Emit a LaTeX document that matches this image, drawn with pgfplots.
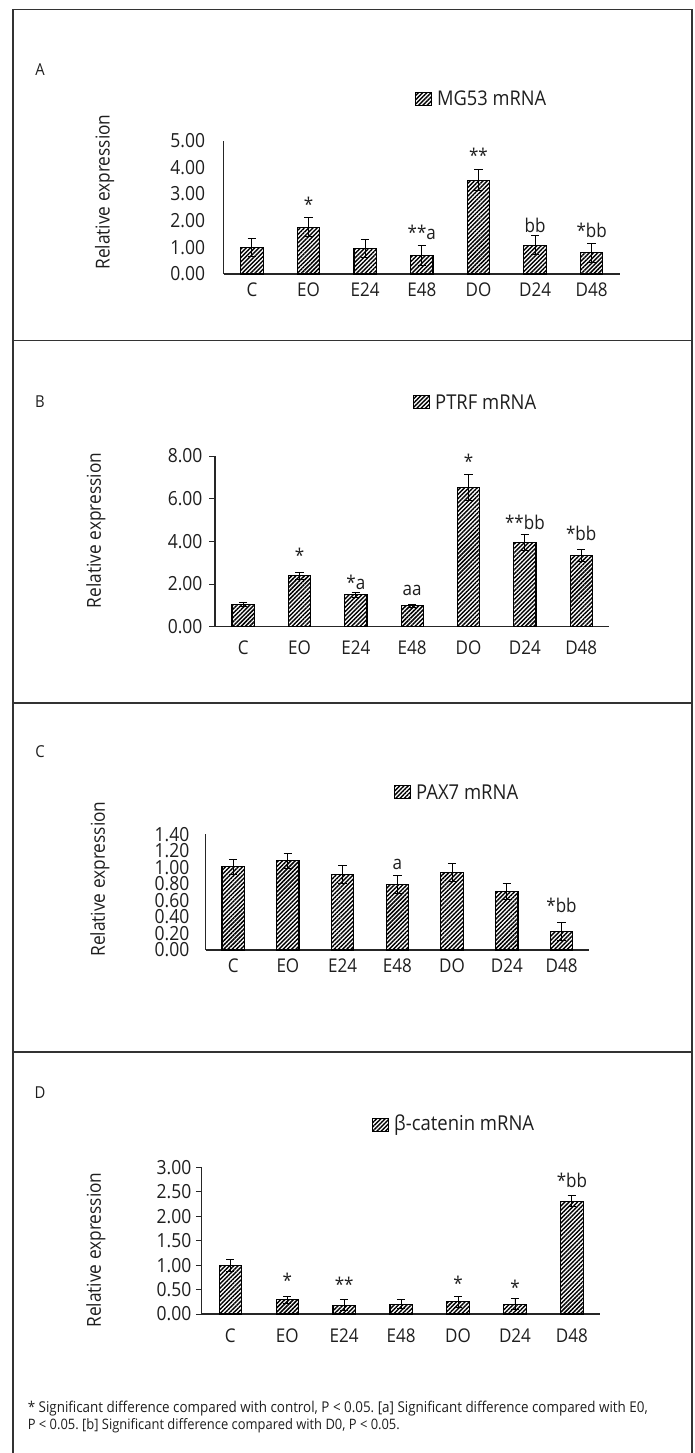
\documentclass[border=0pt]{standalone}
\usepackage{fontspec}
\setmainfont{Open Sans}[FakeStretch=0.9]
\usepackage{graphicx}
\usepackage{pgfplots}
\pgfplotsset{compat=1.18}
\usetikzlibrary{patterns.meta}
\newcommand{\fs}[1]{\fontsize{#1}{#1}\selectfont}
\definecolor{txt}{HTML}{1E1E1E}
\tikzset{hatch/.style={pattern={Lines[angle=45,distance=3bp,line width=1.45bp]}, draw=black},
  ann/.style={font=\fs{19}, inner sep=0pt, text=txt}}
\pgfplotsset{panel/.style={
  scale only axis, anchor=south west, clip=false,
  ybar, bar width=22.3bp, ymin=0, xmin=-0.5, xmax=6.5,
  axis x line=bottom, axis y line=left,
  axis line style={-, line width=1.2bp, black!85},
  xtick={0,...,6}, xticklabels={C,EO,E24,E48,DO,D24,D48},
  x tick style={draw=none}, major tick length=0pt,
  xticklabel style={font=\fs{19}, text=txt, yshift=-5bp},
  yticklabel style={font=\fs{19.5}, text=txt},
  /pgf/number format/fixed, /pgf/number format/fixed zerofill,
  /pgf/number format/precision=2, /pgf/number format/assume math mode=true},
  barplot/.style={hatch, line width=1.1bp,
  /pgfplots/error bars/y dir=both, /pgfplots/error bars/y explicit,
  /pgfplots/error bars/error bar style={line width=0.9bp, black},
  /pgfplots/error bars/error mark options={rotate=90, mark size=4.2bp, line width=0.9bp, black}}
}
% box x, y centre, text width, text
\newcommand{\legendentry}[4]{%
  \draw[hatch, line width=0.9bp] (#1bp,-#2bp-6.5bp) rectangle ++(16bp,13bp);
  \node[anchor=west, inner sep=0pt, font=\fs{20}, text=txt] at (#1bp+22bp,-#2bp) {\resizebox{#3bp}{!}{#4}};}
\begin{document}
\frenchspacing
\begin{tikzpicture}
\path[use as bounding box] (0,0) rectangle (695bp,-1453bp);
% frame
\draw[line width=1.3bp, black!80] (13bp,-1453bp) -- (13bp,-9.5bp) -- (692bp,-9.5bp) -- (692bp,-1453bp);
\draw[line width=1.3bp, black!80] (13bp,-340.7bp) -- (692bp,-340.7bp);
\draw[line width=1.3bp, black!80] (13bp,-703bp) -- (692bp,-703bp);
\draw[line width=1.3bp, black!80] (13bp,-1052bp) -- (692bp,-1052bp);

% ---------- Panel A ----------
\begin{axis}[panel, at={(223.6bp,-274bp)}, width=396.4bp, height=133.3bp,
  ymax=5, ytick={0,1,2,3,4,5}, yticklabel style={xshift=-15bp}]
\addplot[barplot] table[x=x, y=y, y error=e] {
x y e
0 1.00 0.35
1 1.75 0.36
2 0.96 0.35
3 0.69 0.37
4 3.52 0.40
5 1.08 0.36
6 0.79 0.35
};
\node[ann] at (axis cs:1,2.60) {*};
\node[ann] at (axis cs:3,1.56) {**a};
\node[ann] at (axis cs:4,4.45) {**};
\node[ann] at (axis cs:5,1.84) {bb};
\node[ann] at (axis cs:6,1.65) {*bb};
\end{axis}
\node[font=\fs{16.5}, text=txt] at (40bp,-70bp) {A};
\legendentry{415}{98.7}{109}{MG53 mRNA}
\node[rotate=90, font=\fs{19.3}, text=txt] at (104.7bp,-192bp) {Relative expression};

% ---------- Panel B ----------
\begin{axis}[panel, at={(215bp,-626.7bp)}, width=394.4bp, height=170.7bp,
  ymax=8, ytick={0,2,4,6,8}, ytick style={line width=0.9bp, black!85},
  tick align=outside, major tick length=6bp, yticklabel style={xshift=-3bp}]
\addplot[barplot] table[x=x, y=y, y error=e] {
x y e
0 1.05 0.11
1 2.39 0.17
2 1.50 0.11
3 0.98 0.07
4 6.52 0.62
5 3.95 0.39
6 3.34 0.30
};
\node[ann] at (axis cs:1,3.33) {*};
\node[ann] at (axis cs:2,2.06) {*a};
\node[ann] at (axis cs:3,1.72) {aa};
\node[ann] at (axis cs:4,7.75) {*};
\node[ann] at (axis cs:5,4.88) {**bb};
\node[ann] at (axis cs:6,4.38) {*bb};
\end{axis}
\node[font=\fs{16.5}, text=txt] at (40bp,-402bp) {B};
\legendentry{413}{402}{101}{PTRF mRNA}
\node[rotate=90, font=\fs{19.3}, text=txt] at (95.8bp,-530.5bp) {Relative expression};

% ---------- Panel C ----------
\begin{axis}[panel, at={(205.8bp,-950bp)}, width=383.1bp, height=115.7bp,
  ymax=1.4, ytick={0,0.2,0.4,0.6,0.8,1.0,1.2,1.4}, yticklabel style={xshift=-13bp}]
\addplot[barplot] table[x=x, y=y, y error=e] {
x y e
0 1.01 0.09
1 1.08 0.09
2 0.91 0.11
3 0.79 0.11
4 0.94 0.11
5 0.71 0.10
6 0.22 0.11
};
\node[ann] at (axis cs:3,1.04) {a};
\node[ann] at (axis cs:6,0.545) {*bb};
\end{axis}
\node[font=\fs{16.5}, text=txt] at (40bp,-751.7bp) {C};
\legendentry{394}{791.7}{102}{PAX7 mRNA}
\node[rotate=90, font=\fs{19.3}, text=txt] at (100bp,-879bp) {Relative expression};

% ---------- Panel D ----------
\begin{axis}[panel, at={(201.8bp,-1314bp)}, width=398.6bp, height=146.7bp,
  ymax=3, ytick={0,0.5,1.0,1.5,2.0,2.5,3.0}, ytick style={line width=0.9bp, black!85},
  tick align=outside, major tick length=6bp, yticklabel style={xshift=-1bp}]
\addplot[barplot] table[x=x, y=y, y error=e] {
x y e
0 1.00 0.12
1 0.29 0.07
2 0.18 0.11
3 0.20 0.09
4 0.25 0.11
5 0.20 0.11
6 2.31 0.11
};
\node[ann] at (axis cs:1,0.69) {*};
\node[ann] at (axis cs:2,0.60) {**};
\node[ann] at (axis cs:4,0.62) {*};
\node[ann] at (axis cs:5,0.54) {*};
\node[ann] at (axis cs:6,2.73) {*bb};
\end{axis}
\node[font=\fs{16.5}, text=txt] at (40bp,-1093bp) {D};
\legendentry{372}{1125}{140}{β-catenin mRNA}
\node[rotate=90, font=\fs{19.3}, text=txt] at (96bp,-1250bp) {Relative expression};

% footnote
\node[anchor=base west, inner sep=0pt, font=\fs{14.5}, text=txt] at (27.6bp,-1412bp)
  {\resizebox{620bp}{!}{* Significant difference compared with control, P < 0.05. [a] Significant difference compared with E0,}};
\node[anchor=base west, inner sep=0pt, font=\fs{14.5}, text=txt] at (27.6bp,-1429bp)
  {\resizebox{372bp}{!}{P < 0.05. [b] Significant difference compared with D0, P < 0.05.}};
\end{tikzpicture}
\end{document}
